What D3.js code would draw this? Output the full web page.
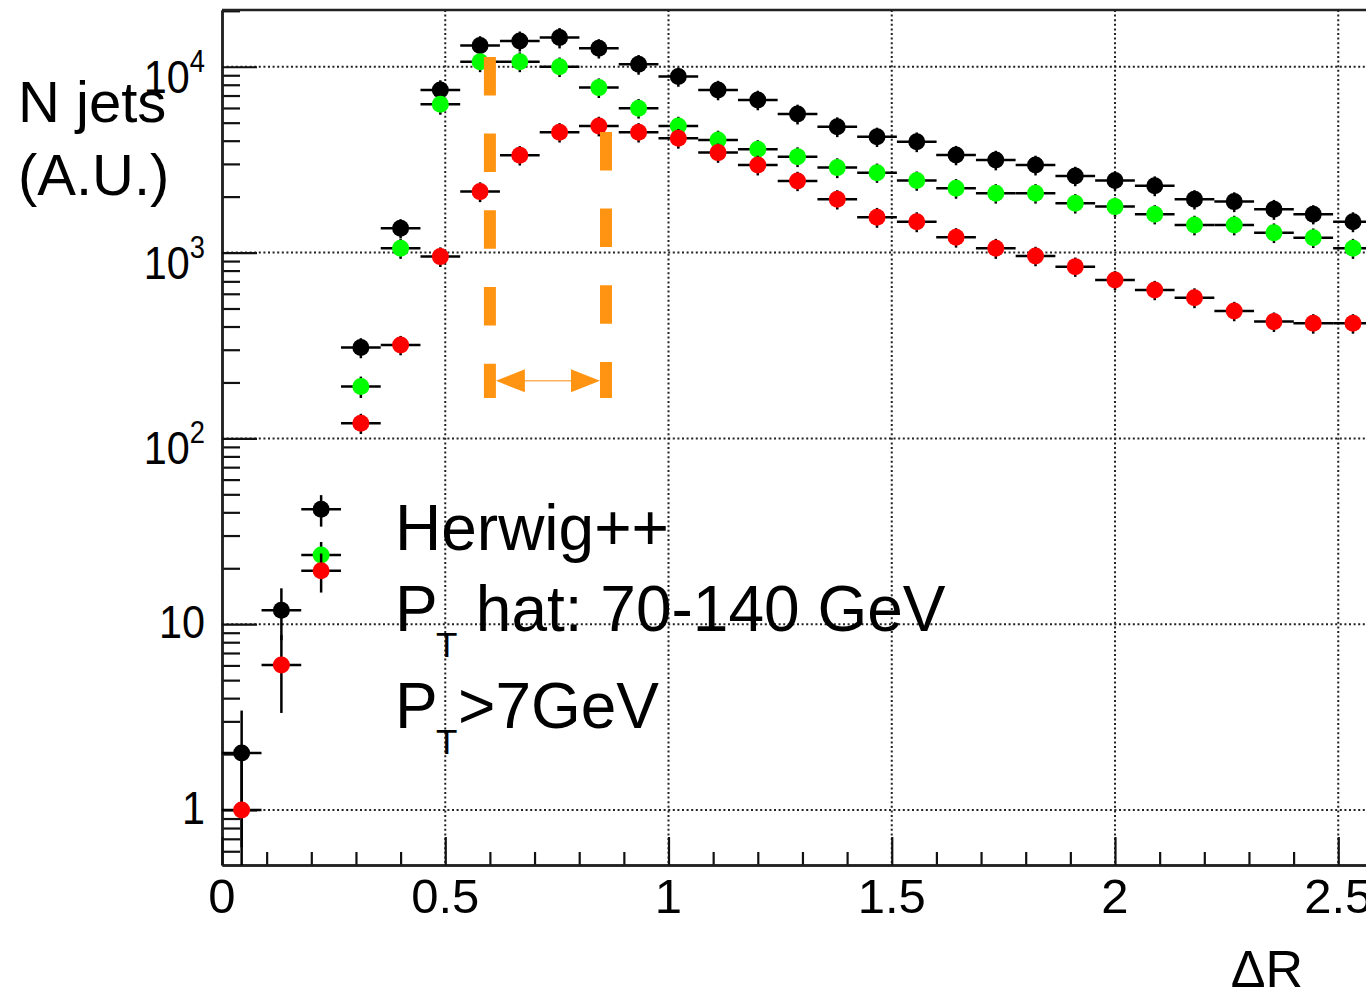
<!DOCTYPE html>
<html>
<head>
<meta charset="utf-8">
<script src="https://cdn.jsdelivr.net/npm/d3@7/dist/d3.min.js"></script>
<style>
	body { margin: 0; background: #fff; }
	text { font-family: "Liberation Sans", Arial, Helvetica, sans-serif; fill: #000; }
</style>
</head>
<body>
<div id="chart-area"></div>
<script>
/*
 *    Delta R distribution of jets, log scale, three samples
 */

// bin centres (Delta R)
var dR = [0.044, 0.133, 0.222, 0.311, 0.400, 0.489, 0.578, 0.667, 0.756, 0.844,
	0.933, 1.022, 1.111, 1.200, 1.289, 1.378, 1.467, 1.556, 1.644, 1.733,
	1.822, 1.911, 2.000, 2.089, 2.178, 2.267, 2.356, 2.444, 2.533];
var binWidth = 0.0889;

// black points
var blackVals = [2.03, 11.9, 41.5, 308, 1352, 7500, 13000, 13770, 14350, 12570,
	10310, 8850, 7500, 6630, 5570, 4760, 4200, 3950, 3350, 3150,
	2960, 2585, 2440, 2290, 1935, 1880, 1710, 1608, 1467];
var blackErrs = [1.4, 3.7, 8, 38, 160, 950, 1600, 1700, 1800, 1500,
	1250, 1050, 900, 800, 680, 580, 500, 480, 400, 380,
	360, 310, 290, 280, 230, 230, 210, 190, 180];

// green points (first two bins empty)
var greenVals = [null, null, 23.6, 190, 1055, 6280, 10650, 10650, 10000, 7720,
	5980, 4800, 4035, 3595, 3283, 2865, 2692, 2440, 2218, 2084,
	2084, 1842, 1767, 1608, 1408, 1408, 1280, 1203, 1055];
var greenErrs = [null, null, 4.1, 25, 130, 760, 1300, 1300, 1200, 930,
	720, 580, 490, 430, 400, 350, 320, 290, 270, 250,
	250, 220, 210, 190, 170, 170, 155, 145, 130];

// red points
var redVals = [1.0, 6.03, 19.4, 120.6, 318, 951, 2128, 3340, 4440, 4800,
	4440, 4122, 3450, 2960, 2430, 1935, 1549, 1467, 1208, 1055,
	959, 840, 712, 629, 572, 485, 425, 416, 416];
var redErrs = [1.0, 2.7, 4.6, 15, 38, 115, 260, 400, 530, 580,
	530, 500, 410, 360, 290, 230, 190, 180, 145, 130,
	115, 100, 85, 75, 70, 58, 51, 50, 50];

var xTickLabels = [0, 0.5, 1, 1.5, 2, 2.5];
var yDecades = [1, 10, 100, 1000, 10000];
var legendLines = ["Herwig++", "hat: 70-140 GeV", ">7GeV"];

// orange window marker (data units)
var windowLow = 0.6, windowHigh = 0.86;
var windowTopLeft = 11300, windowTopRight = 4460, windowBottom = 165, arrowLevel = 204;

var width = 1366;
var height = 995;
var margin = { left: 222, top: 10, bottom: 130 };
var plotBottom = height - margin.bottom;

var svg = d3.select("#chart-area")
	.append("svg")
	.attr("width", width)
	.attr("height", height);

// X - frame keeps going past the right edge of the picture
var x = d3.scaleLinear()
	.domain([0, 3.2])
	.range([margin.left, margin.left + 3.2 * 446.5]);
var y = d3.scaleLog()
	.domain([0.506, 20200])
	.range([plotBottom, margin.top]);

// grid
var grid = svg.append("g").attr("class", "grid");
grid.selectAll("line.hg")
	.data(yDecades)
	.enter().append("line")
	.attr("class", "hg")
	.attr("x1", margin.left).attr("x2", width)
	.attr("y1", d => y(d)).attr("y2", d => y(d))
	.attr("stroke", "#222").attr("stroke-width", 2).attr("stroke-dasharray", "2 2.6");
grid.selectAll("line.vg")
	.data(xTickLabels.filter(d => d > 0))
	.enter().append("line")
	.attr("class", "vg")
	.attr("x1", d => x(d)).attr("x2", d => x(d))
	.attr("y1", margin.top).attr("y2", plotBottom)
	.attr("stroke", "#222").attr("stroke-width", 2).attr("stroke-dasharray", "2 2.6");

// axes (ticks point into the frame)
var yMinor = [];
[0.1, 1, 10, 100, 1000, 10000].forEach(dec => {
	for (var k = 2; k <= 9; k++) yMinor.push(dec * k);
});
yMinor = yMinor.filter(v => v >= 0.506 && v <= 20200);

var xMinor = d3.range(0, 33).map(i => i / 10).filter(v => v % 0.5 > 0.01 && v % 0.5 < 0.49);

var yAxisMinor = d3.axisLeft(y).tickValues(yMinor).tickSize(-18).tickSizeOuter(0).tickFormat("");
var yAxisMajor = d3.axisLeft(y).tickValues(yDecades).tickSize(-35).tickSizeOuter(0).tickFormat("");
var xAxisMinor = d3.axisBottom(x).tickValues(xMinor).tickSize(-13).tickSizeOuter(0).tickFormat("");
var xAxisMajor = d3.axisBottom(x).tickValues(d3.range(0, 7).map(i => i * 0.5)).tickSize(-28).tickSizeOuter(0).tickFormat("");

[yAxisMinor, yAxisMajor].forEach(a => {
	svg.append("g").attr("class", "y axis")
		.attr("transform", `translate(${margin.left}, 0)`)
		.call(a);
});
[xAxisMinor, xAxisMajor].forEach(a => {
	svg.append("g").attr("class", "x axis")
		.attr("transform", `translate(0, ${plotBottom})`)
		.call(a);
});
svg.selectAll(".axis line").attr("stroke", "#111").attr("stroke-width", 2.2);
svg.selectAll(".axis path").attr("stroke", "#222").attr("stroke-width", 2.5);

// top of frame
svg.append("line")
	.attr("x1", margin.left).attr("x2", width)
	.attr("y1", margin.top).attr("y2", margin.top)
	.attr("stroke", "#222").attr("stroke-width", 2.5);

// tick labels
svg.selectAll("text.xlab")
	.data(xTickLabels)
	.enter().append("text")
	.attr("class", "xlab")
	.attr("x", d => x(d))
	.attr("y", 913)
	.attr("font-size", "49px")
	.attr("text-anchor", "middle")
	.text(d => String(d));

yDecades.forEach(d => {
	var exp = Math.round(Math.log10(d));
	var t = svg.append("text")
		.attr("text-anchor", "end")
		.attr("font-size", "47px")
		.attr("transform", `translate(205, ${y(d) + (exp >= 2 ? 26 : 14)}) scale(0.88, 1)`);
	if (exp >= 2) {
		t.append("tspan").text("10");
		t.append("tspan").attr("font-size", "31px").attr("dy", -21).text(exp);
	} else {
		t.text(String(d));
	}
});

// axis titles
svg.append("text").attr("x", 18).attr("y", 122).attr("font-size", "58px").text("N jets");
svg.append("text").attr("x", 18).attr("y", 195).attr("font-size", "58px").text("(A.U.)");
svg.append("text").attr("x", 1303).attr("y", 987).attr("font-size", "52px")
	.attr("text-anchor", "end").text("\u0394R");

// data points
var seriesList = [
	{ vals: blackVals, errs: blackErrs, color: "#000000" },
	{ vals: greenVals, errs: greenErrs, color: "#00ff00" },
	{ vals: redVals, errs: redErrs, color: "#ff0000" }
];

seriesList.forEach(s => {
	var pts = dR.map((c, i) => ({ c: c, v: s.vals[i], e: s.errs[i] }))
		.filter(p => p.v !== null);
	var g = svg.append("g");

	g.selectAll("line.hbar")
		.data(pts)
		.enter().append("line")
		.attr("x1", p => x(p.c - binWidth / 2))
		.attr("x2", p => x(p.c + binWidth / 2))
		.attr("y1", p => y(p.v)).attr("y2", p => y(p.v))
		.attr("stroke", "#000").attr("stroke-width", 2.5);

	g.selectAll("line.vbar")
		.data(pts)
		.enter().append("line")
		.attr("x1", p => x(p.c)).attr("x2", p => x(p.c))
		.attr("y1", p => y(p.v + p.e))
		.attr("y2", p => (p.v - p.e > 0.506 ? y(p.v - p.e) : plotBottom))
		.attr("stroke", "#000").attr("stroke-width", 2.5);

	g.selectAll("circle")
		.data(pts)
		.enter().append("circle")
		.attr("cx", p => x(p.c))
		.attr("cy", p => y(p.v))
		.attr("r", 8.5)
		.attr("fill", s.color);
});

// orange window
var orange = "#ff9412";
svg.append("line")
	.attr("x1", x(windowLow)).attr("x2", x(windowLow))
	.attr("y1", y(windowTopLeft)).attr("y2", y(windowBottom))
	.attr("stroke", orange).attr("stroke-width", 12).attr("stroke-dasharray", "38.5 38.2");
svg.append("line")
	.attr("x1", x(windowHigh)).attr("x2", x(windowHigh))
	.attr("y1", y(windowTopRight)).attr("y2", y(windowBottom))
	.attr("stroke", orange).attr("stroke-width", 12).attr("stroke-dasharray", "38.5 38.2");

var ay = y(arrowLevel);
var aL = x(windowLow) + 6, aR = x(windowHigh) - 6;
svg.append("line")
	.attr("x1", aL + 20).attr("x2", aR - 20)
	.attr("y1", ay).attr("y2", ay)
	.attr("stroke", "#ffb25a").attr("stroke-width", 1.5);
svg.append("path")
	.attr("d", `M${aL},${ay} L${aL + 29},${ay - 11.5} L${aL + 29},${ay + 11.5} Z`)
	.attr("fill", orange);
svg.append("path")
	.attr("d", `M${aR},${ay} L${aR - 29},${ay - 11.5} L${aR - 29},${ay + 11.5} Z`)
	.attr("fill", orange);

// legend text
svg.append("text").attr("x", 395).attr("y", 550).attr("font-size", "64px").text(legendLines[0]);

[[631, legendLines[1], 458], [728, legendLines[2], 458]].forEach(row => {
	var t = svg.append("text").attr("x", 395).attr("y", row[0]).attr("font-size", "64px");
	t.append("tspan").text("P");
	t.append("tspan").attr("x", 436).attr("dy", 26).attr("font-size", "35px").text("T");
	t.append("tspan").attr("x", row[2]).attr("dy", -26)
		.text((row[1].charAt(0) === ">" ? "" : " ") + row[1]);
});
</script>
</body>
</html>
